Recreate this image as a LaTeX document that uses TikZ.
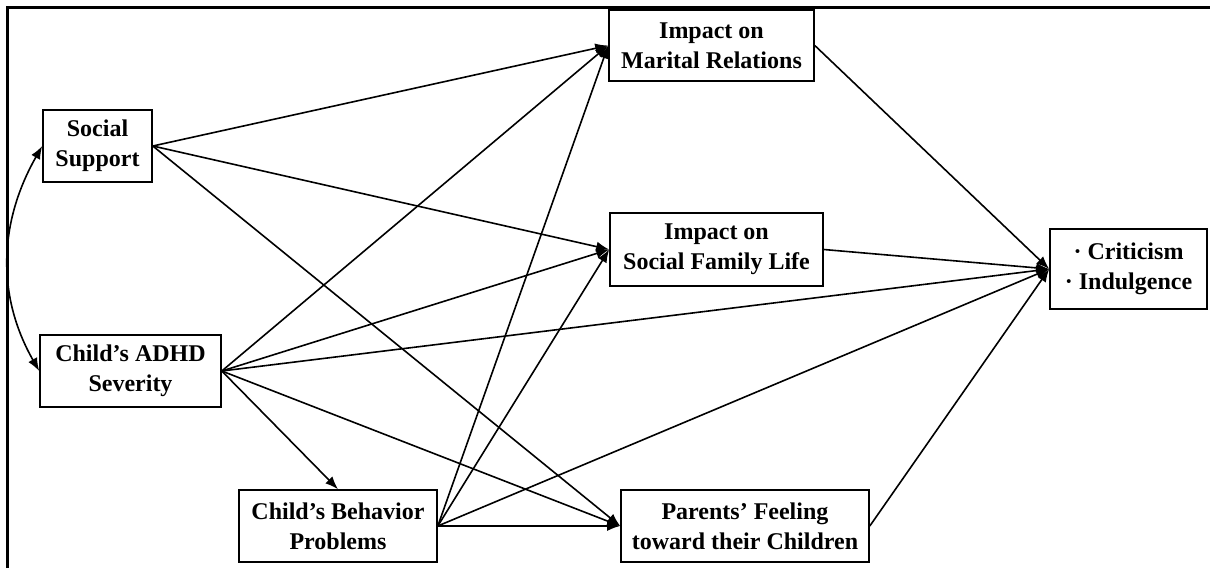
\documentclass[tikz,border=0pt]{standalone}
\usepackage{fontspec}
\setmainfont{Liberation Serif}
\usetikzlibrary{arrows.meta, positioning}

\begin{document}
\begin{tikzpicture}[
  x=0.5pt, y=-0.5pt,
  block/.style = {draw, thick, align=center, inner sep=2pt,
                  font=\fontsize{12}{15}\selectfont\bfseries},
  arrow/.style = {thick, -{Latex[length=6.5pt, width=5pt]}},
  biarrow/.style = {thick, {Latex[length=6.5pt, width=5pt]}-{Latex[length=6.5pt, width=5pt]}}
]
  \useasboundingbox (0,0) rectangle (1210,568);

  % frame
  \draw[line width=1.5pt] (7,568) -- (7,7) -- (1210,7);

  % exogenous variables
  \node[block, minimum width=54.5pt, minimum height=36pt] (support) at (97.5,146) {Social\\Support};
  \node[block, minimum width=90.5pt, minimum height=36pt] (severity) at (130.5,371) {Child’s ADHD\\Severity};

  % mediators
  \node[block, minimum width=99pt, minimum height=36pt] (behavior) at (338,526) {Child’s Behavior\\Problems};
  \node[block, minimum width=102.5pt, minimum height=35.5pt] (marital) at (711.5,45.5) {Impact on\\Marital Relations};
  \node[block, minimum width=106.5pt, minimum height=36.5pt] (family) at (716.5,249.5) {Impact on\\Social Family Life};
  \node[block, minimum width=124pt, minimum height=36pt] (feeling) at (745,526) {Parents’ Feeling\\toward their Children};

  % outcome
  \node[block, minimum width=78.5pt, minimum height=40pt] (outcome) at (1128.5,269) {· Criticism\\· Indulgence};

  % correlation
  \draw[biarrow] (support.west) .. controls (-1,222) and (-4,295) .. (severity.west);

  % paths
  \foreach \t in {marital, family, feeling}
    \draw[arrow] (support.east) -- (\t.west);
  \foreach \t in {marital, family, outcome, feeling}
    \draw[arrow] (severity.east) -- (\t.west);
  \draw[arrow] (severity.east) -- (behavior.north);
  \foreach \t in {marital, family, outcome, feeling}
    \draw[arrow] (behavior.east) -- (\t.west);
  \foreach \s in {marital, family, feeling}
    \draw[arrow] (\s.east) -- (outcome.west);

\end{tikzpicture}
\end{document}
